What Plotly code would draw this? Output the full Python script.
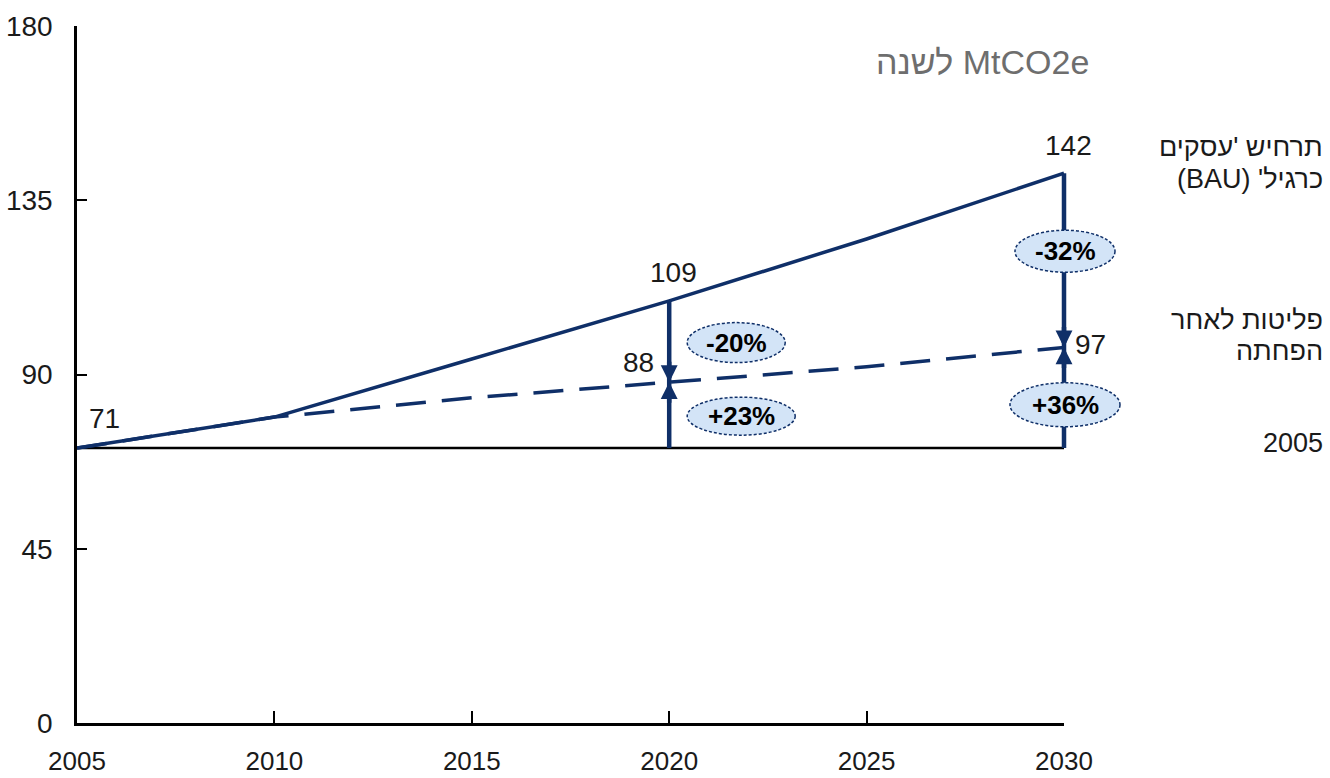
import plotly.graph_objects as go

# ---- data ----
years = [2005, 2010, 2015, 2020, 2025, 2030]
bau = [71, 79, 94, 109, 125, 142]            # BAU scenario
post = [71, 79, 84, 88, 92, 97]              # emissions after reduction
base_value = 71                               # 2005 level
arrow_years = [2020, 2030]
down_labels = ["-20%", "-32%"]
up_labels = ["+23%", "+36%"]
x_ticks = [2005, 2010, 2015, 2020, 2025, 2030]
y_ticks = [0, 45, 90, 135, 180]
y_tick_text = ["0", "45", "90", "135", "180"]

bau_label = ["תרחיש 'עסקים", "כרגיל' (BAU)"]
post_label = ["פליטות לאחר", "הפחתה"]
base_label = "2005"
unit_title = "MtCO2e לשנה"

X_RANGE = [2005, 2030]
Y_RANGE = [0, 180]

NAVY = "#0f2f68"
FONT = "Liberation Sans, Arial, sans-serif"
TXT = "#1a1a1a"
RLE, PDF = "\u202b", "\u202c"


def xp(v):
    return (v - X_RANGE[0]) / (X_RANGE[1] - X_RANGE[0])


def yp(v):
    return (v - Y_RANGE[0]) / (Y_RANGE[1] - Y_RANGE[0])


fig = go.Figure()

# 2005 baseline
fig.add_trace(go.Scatter(x=[years[0], years[-1]], y=[base_value, base_value],
                         mode="lines", line=dict(color="black", width=2.5),
                         hoverinfo="skip"))
# dashed post-reduction line
fig.add_trace(go.Scatter(x=years, y=post, mode="lines",
                         line=dict(color=NAVY, width=3.5, dash="30px,16px"),
                         hoverinfo="skip"))
# BAU solid line
fig.add_trace(go.Scatter(x=years, y=bau, mode="lines",
                         line=dict(color=NAVY, width=3.5), hoverinfo="skip"))

# vertical connectors (paper-referenced so they are not clipped at the plot edge)
for yr in arrow_years:
    i = years.index(yr)
    fig.add_shape(type="line", xref="paper", yref="paper",
                  x0=xp(yr), x1=xp(yr), y0=yp(bau[i]), y1=yp(base_value),
                  line=dict(color=NAVY, width=4.5), layer="above")

# arrow heads
for yr in arrow_years:
    i = years.index(yr)
    for ay in (-22, 22):
        fig.add_annotation(x=yr, y=post[i], ax=0, ay=ay, text="",
                           showarrow=True, arrowhead=2, arrowsize=0.75,
                           arrowwidth=4.5, arrowcolor=NAVY)

# ellipses with percentages
ell = [
    # (year, lower, upper, label, x0, x1, dy, half-height)
    (2020, post[3], bau[3], down_labels[0], 18, 116, -1, 20),
    (2020, base_value, post[3], up_labels[0], 18, 126, -1, 19),
    (2030, post[5], bau[5], down_labels[1], -49, 51, 9, 21),
    (2030, base_value, post[5], up_labels[1], -54, 56, -7, 22),
]
for yr, lo, hi, lab, x0, x1, dy, hh in ell:
    mid = (lo + hi) / 2
    fig.add_shape(type="circle", xref="paper", yref="paper", xsizemode="pixel",
                  ysizemode="pixel", xanchor=xp(yr), yanchor=yp(mid),
                  x0=x0, x1=x1, y0=dy - hh, y1=dy + hh,
                  fillcolor="#d3e4f7", line=dict(color=NAVY, width=1.5, dash="3px,2px"),
                  layer="above")
    fig.add_annotation(x=yr, y=mid, text="<b>" + lab + "</b>", showarrow=False,
                       xshift=(x0 + x1) / 2, yshift=dy,
                       font=dict(size=26, color="black", family=FONT))

# value labels
def vlabel(x, y, text, xanchor, yanchor, xs, ys):
    fig.add_annotation(x=x, y=y, text=text, showarrow=False, xanchor=xanchor,
                       yanchor=yanchor, xshift=xs, yshift=ys,
                       font=dict(size=28, color=TXT, family=FONT))

vlabel(years[0], bau[0], str(bau[0]), "left", "middle", 10, 30)
vlabel(2020, bau[3], str(bau[3]), "center", "middle", 4, 28)
vlabel(2020, post[3], str(post[3]), "right", "middle", -13, 20)
vlabel(2030, bau[5], str(bau[5]), "center", "middle", 4, 28)
vlabel(2030, post[5], str(post[5]), "left", "middle", 9, 3)

# right-side series labels
def rlabel(y, text, ys):
    fig.add_annotation(x=1.2644, xref="paper", y=y, yref="y", text=text,
                       showarrow=False, xanchor="right", yanchor="middle",
                       yshift=ys, font=dict(size=27, color=TXT, family=FONT))

rlabel(bau[-1], RLE + bau_label[0] + PDF, 26)
rlabel(bau[-1], RLE + bau_label[1] + PDF, -6)
rlabel(post[-1], RLE + post_label[0] + PDF, 27)
rlabel(post[-1], RLE + post_label[1] + PDF, -4)
rlabel(base_value, base_label, 5)

# unit title
fig.add_annotation(x=1.027, xref="paper", y=1, yref="paper", text=RLE + unit_title + PDF,
                   showarrow=False, xanchor="right", yanchor="middle", yshift=-36,
                   font=dict(size=34, color="#6e6e6e", family=FONT))

fig.update_layout(
    width=1330, height=778,
    margin=dict(l=77, r=266, t=26, b=55, autoexpand=False),
    paper_bgcolor="white", plot_bgcolor="white",
    showlegend=False,
    font=dict(family=FONT, size=28, color=TXT),
    xaxis=dict(range=X_RANGE, tickmode="array", tickvals=x_ticks,
               ticktext=[str(t) for t in x_ticks], showgrid=False, zeroline=False,
               showline=True, linecolor="black", linewidth=2.5, ticks="inside",
               ticklen=12, tickwidth=2, tickcolor="black", ticklabelstandoff=13,
               automargin=False,
               tickfont=dict(size=26, family=FONT, color=TXT)),
    yaxis=dict(range=Y_RANGE, tickmode="array", tickvals=y_ticks,
               ticktext=y_tick_text, showgrid=False, zeroline=False,
               showline=True, linecolor="black", linewidth=2.5, ticks="inside",
               ticklen=10, tickwidth=2, tickcolor="black", ticklabelstandoff=16,
               automargin=False,
               tickfont=dict(size=28, family=FONT, color=TXT)),
)

fig.write_html("out.html", config={"displayModeBar": False},
               post_script="document.body.style.margin='0px';document.body.style.overflow='hidden';")
